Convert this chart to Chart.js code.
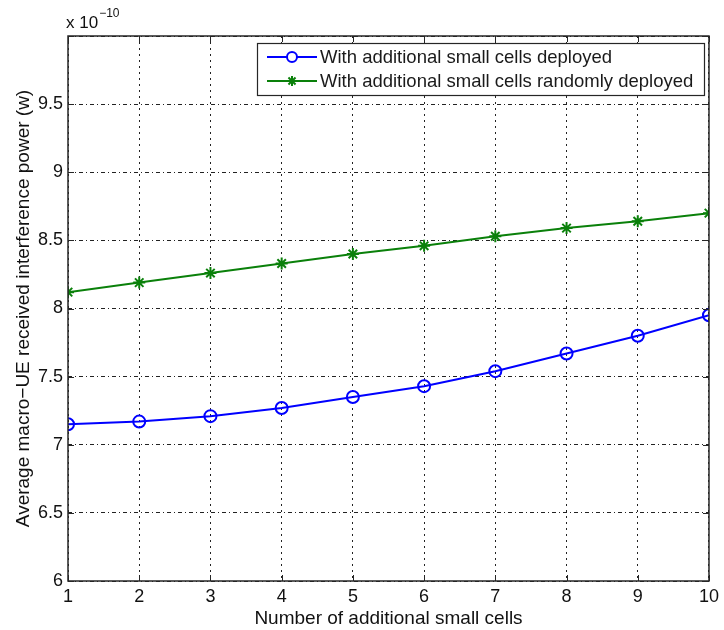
<!DOCTYPE html>
<html>
<head>
<meta charset="utf-8">
<script src="https://cdn.jsdelivr.net/npm/chart.js@4.4.1/dist/chart.umd.min.js"></script>
<style>
  html, body { margin: 0; padding: 0; background: #fff; }
  canvas { display: block; }
</style>
</head>
<body>
<canvas id="myChart" width="724" height="630"></canvas>
<script>
// number of additional small cells
var cells = [1, 2, 3, 4, 5, 6, 7, 8, 9, 10];
// interference power, in units of 1e-10 W
var deployed = [7.15, 7.17, 7.21, 7.27, 7.35, 7.43, 7.54, 7.67, 7.80, 7.95];
var randomDeployed = [8.12, 8.19, 8.26, 8.33, 8.40, 8.46, 8.53, 8.59, 8.64, 8.70];
var yTicks = [6, 6.5, 7, 7.5, 8, 8.5, 9, 9.5, 10];
var seriesNames = ['With additional small cells deployed', 'With additional small cells randomly deployed'];

var FONT = 'Liberation Sans, Arial, sans-serif';

function pts(ys) {
  return cells.map(function (x, i) { return { x: x, y: ys[i] }; });
}

// box, inward ticks, exponent and legend, matlab style
var framePlugin = {
  id: 'frame',
  afterDraw: function (chart) {
    var c = chart.ctx, a = chart.chartArea;
    var xs = chart.scales.x, ys = chart.scales.y;
    c.save();
    c.strokeStyle = '#262626';
    c.lineWidth = 1.5;
    c.setLineDash([]);
    c.strokeRect(a.left, a.top, a.right - a.left, a.bottom - a.top);
    c.lineWidth = 1;
    c.beginPath();
    cells.forEach(function (v) {
      var px = Math.round(xs.getPixelForValue(v)) + 0.5;
      c.moveTo(px, a.bottom); c.lineTo(px, a.bottom - 6);
      c.moveTo(px, a.top); c.lineTo(px, a.top + 6);
    });
    yTicks.forEach(function (v) {
      var py = Math.round(ys.getPixelForValue(v)) + 0.5;
      c.moveTo(a.left, py); c.lineTo(a.left + 6, py);
      c.moveTo(a.right, py); c.lineTo(a.right - 6, py);
    });
    c.stroke();

    // exponent label
    c.fillStyle = '#111';
    c.textBaseline = 'alphabetic';
    c.textAlign = 'left';
    c.font = '17px ' + FONT;
    c.fillText('x 10', 66, 28);
    var w = c.measureText('x 10').width;
    c.font = '12px ' + FONT;
    c.fillText('\u221210', 66 + w + 1, 17);

    // legend
    var lx = 257, ly = 43, lw = 447, lh = 52;
    c.fillStyle = '#fff';
    c.fillRect(lx, ly, lw, lh);
    c.strokeStyle = '#262626';
    c.lineWidth = 1.2;
    c.strokeRect(lx + 0.5, ly + 0.5, lw, lh);
    chart.data.datasets.forEach(function (ds, i) {
      var yy = ly + 14 + i * 24;
      c.strokeStyle = ds.borderColor;
      c.lineWidth = 2;
      c.beginPath();
      c.moveTo(lx + 10, yy); c.lineTo(lx + 60, yy);
      c.stroke();
      Chart.helpers.drawPoint(c, {
        pointStyle: ds.pointStyle, radius: 5, borderWidth: ds.pointBorderWidth || 2
      }, lx + 35, yy);
      c.fillStyle = '#1a1a1a';
      c.font = '18.5px ' + FONT;
      c.textBaseline = 'middle';
      c.fillText(ds.label, lx + 63, yy + 1);
    });
    c.restore();
  }
};

var ctx = document.getElementById('myChart');
var myChart = new Chart(ctx, {
  type: 'line',
  data: {
    datasets: [{
      label: seriesNames[0],
      data: pts(deployed),
      borderColor: '#0000ff',
      backgroundColor: 'rgba(0,0,0,0)',
      borderWidth: 2,
      pointStyle: 'circle',
      pointRadius: 6,
      pointBorderWidth: 2,
      pointBorderColor: '#0000ff',
      pointBackgroundColor: 'rgba(0,0,0,0)',
      tension: 0
    }, {
      label: seriesNames[1],
      data: pts(randomDeployed),
      borderColor: '#0a800a',
      backgroundColor: 'rgba(0,0,0,0)',
      borderWidth: 2,
      pointStyle: 'star',
      pointRadius: 6,
      pointBorderWidth: 2,
      pointBorderColor: '#0a800a',
      tension: 0
    }]
  },
  options: {
    responsive: false,
    animation: false,
    devicePixelRatio: 1,
    layout: { padding: { top: 36, right: 11, left: 0, bottom: 0 } },
    plugins: {
      legend: { display: false },
      tooltip: { enabled: false }
    },
    scales: {
      x: {
        type: 'linear',
        min: 1,
        max: 10,
        afterFit: function (s) { s.height = 49; },
        afterBuildTicks: function (s) { s.ticks = cells.map(function (v) { return { value: v }; }); },
        grid: { color: '#222', lineWidth: 1, drawTicks: false },
        border: { display: false, dash: [2, 4] },
        ticks: { color: '#111', font: { family: FONT, size: 18 }, padding: 5, maxRotation: 0, autoSkip: false },
        title: {
          display: true, text: 'Number of additional small cells', color: '#111',
          font: { family: FONT, size: 19 }, padding: { top: 0, bottom: 0 }
        }
      },
      y: {
        min: 6,
        max: 10,
        afterFit: function (s) { s.width = 68; },
        afterBuildTicks: function (s) { s.ticks = yTicks.map(function (v) { return { value: v }; }); },
        grid: { color: '#222', lineWidth: 1, drawTicks: false },
        border: { display: false, dash: [4, 3, 1, 3] },
        ticks: {
          color: '#111', font: { family: FONT, size: 18 }, padding: 5, autoSkip: false,
          callback: function (v) { return v === 10 ? '' : String(v); }
        },
        title: {
          display: true, text: 'Average macro\u2212UE received interference power (w)', color: '#111',
          font: { family: FONT, size: 19 }, padding: { top: 12, bottom: 0 }
        }
      }
    }
  },
  plugins: [framePlugin]
});
</script>
</body>
</html>
